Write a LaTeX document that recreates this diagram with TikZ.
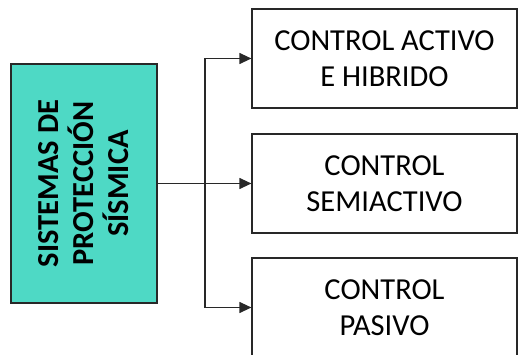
\documentclass[tikz,border=0pt]{standalone}
\usepackage{fontspec}
\setmainfont{Carlito}
\usetikzlibrary{arrows.meta}
\definecolor{tealfill}{RGB}{78,217,197}
\definecolor{edge}{RGB}{40,40,40}
\begin{document}
\begin{tikzpicture}[x=1pt,y=-1pt,
  box/.style={draw=edge,line width=1.2pt,minimum width=265pt,minimum height=99pt,
    align=center,inner sep=0pt,font=\fontsize{30.5}{36}\selectfont},
  mainbox/.style={draw=edge,line width=1.2pt,fill=tealfill,minimum width=146pt,
    minimum height=239pt,inner sep=0pt},
  link/.style={draw=edge,line width=1.2pt},
  tip/.style={-{Triangle[length=12pt,width=11pt]}}]
\useasboundingbox (0,0) rectangle (520,355);
\begin{scope}
\clip (0,0) rectangle (520,355);
\node[mainbox] (main) at (84,183.5) {};
\node[rotate=90,align=center,font=\bfseries\fontsize{30.5}{35}\selectfont] (maintext) at (main.center)
  {SISTEMAS DE\\PROTECCIÓN\\SÍSMICA};
\node[box] (active) at (384.5,58.5) {CONTROL ACTIVO\\E HIBRIDO};
\node[box] (semi) at (384.5,183.5) {CONTROL\\SEMIACTIVO};
\node[box] (passive) at (384.5,307.5) {CONTROL\\PASIVO};
\coordinate (split) at (205,183.5);
\draw[link,tip] (main.east) -- (semi.west);
\draw[link,tip] (split) |- (active.west);
\draw[link,tip] (split) |- (passive.west);
\end{scope}
\end{tikzpicture}
\end{document}
